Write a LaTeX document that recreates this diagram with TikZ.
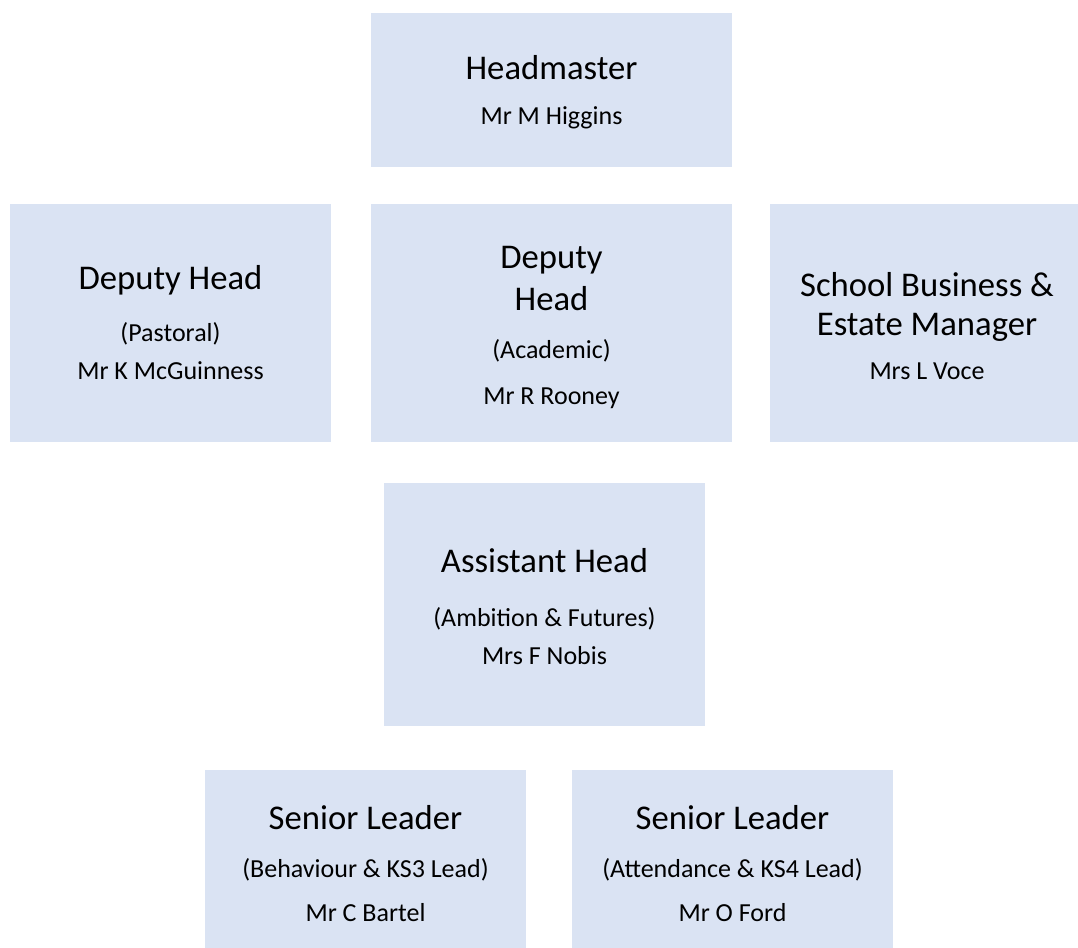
\documentclass[tikz,border=0pt]{standalone}
\usepackage{fontspec}
\setmainfont{Carlito}
\definecolor{boxblue}{RGB}{218,227,243}
\tikzset{
  box/.style={fill=boxblue, draw=none, inner sep=0pt},
  ttl/.style={anchor=base, inner sep=0pt, font=\fontsize{26pt}{31pt}\selectfont},
  sub/.style={anchor=base, inner sep=0pt, font=\fontsize{19.5pt}{24pt}\selectfont}
}
\begin{document}
\begin{tikzpicture}[x=0.75pt,y=-0.75pt]
\useasboundingbox (0,0) rectangle (1078,948);
% boxes
\node (hm) [box, minimum width=270.75pt, minimum height=115.5pt] at (551.5,90) {};
\node (dp) [box, minimum width=240.75pt, minimum height=178.5pt] at (170.5,323) {};
\node (da) [box, minimum width=270.75pt, minimum height=178.5pt] at (551.5,323) {};
\node (sb) [box, minimum width=235.5pt, minimum height=178.5pt] at (927,323) {};
\node (ah) [box, minimum width=240.75pt, minimum height=182.25pt] at (544.5,604.5) {};
\node (sl1) [box, minimum width=240.75pt, minimum height=142.5pt] at (365.5,865) {};
\node (sl2) [box, minimum width=240.75pt, minimum height=142.5pt] at (732.5,865) {};
% texts
\node (hmt) [ttl] at (551.5,80) {Headmaster};
\node (hms) [sub] at (551.5,125) {Mr M Higgins};

\node (dpt) [ttl] at (170.5,290) {Deputy Head};
\node (dps) [sub] at (170.5,342) {(Pastoral)};
\node (dpn) [sub] at (170.5,380) {Mr K McGuinness};

\node (dat1) [ttl] at (551.5,269) {Deputy};
\node (dat2) [ttl] at (551.5,311) {Head};
\node (das) [sub] at (551.5,359) {(Academic)};
\node (dan) [sub] at (551.5,405) {Mr R Rooney};

\node (sbt1) [ttl] at (927,297) {School Business \&};
\node (sbt2) [ttl] at (927,336) {Estate Manager};
\node (sbn) [sub] at (927,380) {Mrs L Voce};

\node (aht) [ttl] at (544.5,572) {Assistant Head};
\node (ahs) [sub] at (544.5,626) {(Ambition \& Futures)};
\node (ahn) [sub] at (544.5,664) {Mrs F Nobis};

\node (sl1t) [ttl] at (365.5,829) {Senior Leader};
\node (sl1s) [sub] at (365.5,877) {(Behaviour \& KS3 Lead)};
\node (sl1n) [sub] at (365.5,921) {Mr C Bartel};

\node (sl2t) [ttl] at (732.5,829) {Senior Leader};
\node (sl2s) [sub] at (732.5,877) {(Attendance \& KS4 Lead)};
\node (sl2n) [sub] at (732.5,921) {Mr O Ford};
\end{tikzpicture}
\end{document}
